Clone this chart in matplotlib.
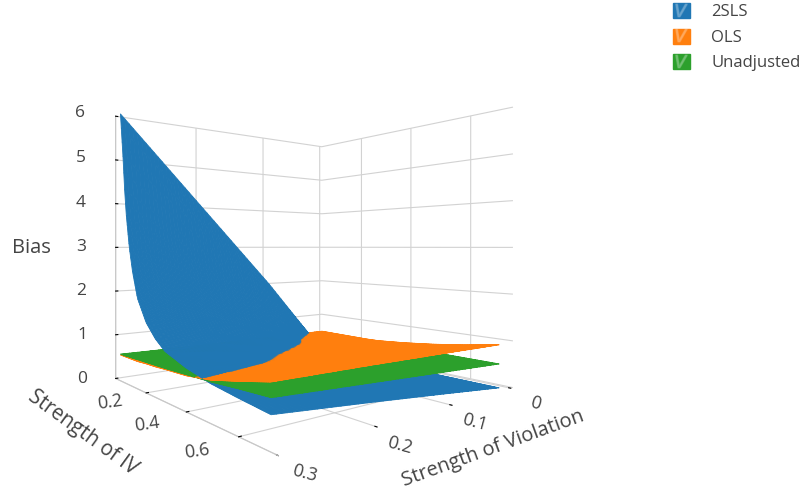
import numpy as np
import matplotlib
matplotlib.use('Agg')
import matplotlib.pyplot as plt
from matplotlib.patches import Patch
from matplotlib.lines import Line2D
from matplotlib.legend_handler import HandlerTuple
from mpl_toolkits.mplot3d.art3d import Poly3DCollection

plt.rcParams['font.family'] = ['Open Sans', 'DejaVu Sans']

# values
violation = [0.008, 0.1, 0.2, 0.3]
iv_strength = [0.043, 0.06, 0.07, 0.08, 0.1, 0.12, 0.15, 0.2, 0.25, 0.3, 0.4, 0.5, 0.6, 0.7]

bias_2sls = [
    [0.00, 0.00, 0.00, 0.00, 0.00, 0.00, 0.00, 0.00, 0.00, 0.00, 0.00, 0.00, 0.00, 0.00],
    [2.00, 1.67, 1.43, 1.25, 1.00, 0.83, 0.68, 0.55, 0.47, 0.42, 0.33, 0.26, 0.20, 0.18],
    [4.00, 3.33, 2.87, 2.50, 2.00, 1.65, 1.30, 0.99, 0.82, 0.72, 0.62, 0.52, 0.41, 0.37],
    [6.00, 5.00, 4.30, 3.75, 3.00, 2.48, 1.92, 1.45, 1.17, 0.98, 0.80, 0.68, 0.61, 0.55],
]
bias_ols = [
    [0.55, 0.55, 0.55, 0.55, 0.55, 0.55, 0.55, 0.55, 0.55, 0.56, 0.62, 0.70, 0.80, 0.92],
    [0.56, 0.56, 0.56, 0.56, 0.56, 0.56, 0.56, 0.56, 0.57, 0.58, 0.63, 0.71, 0.83, 0.96],
    [0.57, 0.57, 0.57, 0.57, 0.57, 0.57, 0.58, 0.59, 0.60, 0.62, 0.65, 0.72, 0.86, 1.00],
    [0.58, 0.58, 0.58, 0.58, 0.58, 0.58, 0.58, 0.60, 0.61, 0.63, 0.66, 0.74, 0.88, 1.03],
]
bias_unadjusted = [
    [0.50, 0.50, 0.50, 0.50, 0.50, 0.50, 0.50, 0.50, 0.50, 0.50, 0.50, 0.51, 0.51, 0.51],
    [0.53, 0.53, 0.53, 0.53, 0.54, 0.54, 0.54, 0.54, 0.55, 0.55, 0.56, 0.57, 0.58, 0.60],
    [0.57, 0.57, 0.57, 0.57, 0.57, 0.58, 0.58, 0.58, 0.59, 0.60, 0.62, 0.64, 0.67, 0.70],
    [0.60, 0.60, 0.60, 0.60, 0.61, 0.61, 0.62, 0.63, 0.64, 0.65, 0.68, 0.71, 0.76, 0.80],
]

series_names = ['2SLS', 'OLS', 'Unadjusted']
series_colors = ['#2077b4', '#ff7f0e', '#2ca02c']
text_color = '#444444'

z_ticks = [0, 1, 2, 3, 4, 5, 6]
z_label_px = [(82, 379), (82, 335), (81, 291), (81, 247), (81, 203), (81, 158), (80, 113)]
iv_ticks = [0.2, 0.4, 0.6]
iv_label_px = [(110, 402), (147, 424), (197, 451)]
violation_ticks = [0, 0.1, 0.2, 0.3]
violation_label_px = [(535, 403), (475, 422), (400, 445), (305, 473)]

view_azim = 50.5
eye_dist = 1.97


def split_facets(values, color):
    """
    cuts one surface into small facets
    :param values: bias table, one row for each violation value
    :param color: facet color
    :return: list of (cell distance from the eye, distance from eye level, polygon, color)
    """
    v_fine = np.linspace(violation[0], violation[-1], 61)
    iv_fine = np.linspace(iv_strength[0], iv_strength[-1], 121)
    table = np.array(values)
    by_iv = np.array([np.interp(iv_fine, iv_strength, row) for row in table])
    z = np.array([np.interp(v_fine, violation, col) for col in by_iv.T]).T
    # eye position over the floor, in box units
    eye_x = 0.5 + eye_dist * np.cos(np.radians(view_azim))
    eye_y = 0.5 + eye_dist * np.sin(np.radians(view_azim))
    facets = []
    for i in range(len(v_fine) - 1):
        for j in range(len(iv_fine) - 1):
            cell_x = ((v_fine[i] + v_fine[i + 1]) / 2 + 0.004) / 0.304
            cell_y = ((iv_fine[j] + iv_fine[j + 1]) / 2 - 0.01) / 0.71
            cell_dist = round(np.hypot(cell_x - eye_x, cell_y - eye_y), 6)
            level = abs(z[i:i + 2, j:j + 2].mean() - 3)
            poly = [(v_fine[i], iv_fine[j], z[i, j]),
                    (v_fine[i + 1], iv_fine[j], z[i + 1, j]),
                    (v_fine[i + 1], iv_fine[j + 1], z[i + 1, j + 1]),
                    (v_fine[i], iv_fine[j + 1], z[i, j + 1])]
            facets.append((cell_dist, level, poly, color))
    return facets


def px_text(pos, label, **kwargs):
    fig.text(pos[0] / 804, 1 - pos[1] / 491, label, color=text_color, ha='center', va='center',
             rotation_mode='anchor', **kwargs)


fig = plt.figure(figsize=(8.04, 4.91), dpi=100)
ax = fig.add_axes([67.3 / 804, 3.3 / 491, 468 / 804, 468 / 491], projection='3d')
ax.set_proj_type('persp', focal_length=0.225)
ax.view_init(elev=0.05, azim=view_azim)
ax.patch.set_alpha(0)

facets = []
for table, color in zip([bias_2sls, bias_ols, bias_unadjusted], series_colors):
    facets += split_facets(table, color)
# back cells first, and inside one cell the facet nearest eye level last
facets.sort(key=lambda f: (-f[0], -f[1]))
polys = [f[2] for f in facets]
colors = [f[3] for f in facets]
surface = Poly3DCollection(polys, facecolors=colors, edgecolors=colors, linewidths=0.6)
# the list is already in painting order, equal keys keep it
surface._zsortfunc = lambda zs: 0
ax.add_collection3d(surface)

ax.set_xlim(-0.004, 0.3, view_margin=0)
ax.set_ylim(0.01, 0.72, view_margin=0)
ax.set_zlim(0, 6, view_margin=0)
ax.set_box_aspect((1.04, 1.04, 1))

ax.set_xticks(violation_ticks)
ax.set_xticklabels([])
ax.set_yticks(iv_ticks)
ax.set_yticklabels([])
ax.set_zticks(z_ticks)
ax.set_zticklabels([])

for axis in [ax.xaxis, ax.yaxis, ax.zaxis]:
    axis.set_pane_color((1, 1, 1, 0))
    axis.pane.set_edgecolor('#c4c4c4')
    axis._axinfo['grid'].update(color='#d2d2d2', linewidth=0.8)
    axis._axinfo['tick'].update(inward_factor=0, outward_factor=0.1, color='#d2d2d2')
    axis.line.set_color('#c8c8c8')
ax.zaxis.pane.set_edgecolor('none')
ax.xaxis.line.set_color('none')

for pos, tick in zip(z_label_px, z_ticks):
    px_text(pos, str(tick), fontsize=12.5)
for pos, tick in zip(iv_label_px, iv_ticks):
    px_text(pos, str(tick), fontsize=13, rotation=8)
for pos, tick in zip(violation_label_px, violation_ticks):
    px_text(pos, str(tick), fontsize=13, rotation=-15)

px_text((31, 248), 'Bias', fontsize=14.5)
px_text((83, 433), 'Strength of IV', fontsize=14.8, rotation=-36)
px_text((493, 449), 'Strength of Violation', fontsize=14.5, rotation=20)

handles = [(Patch(color=c), Line2D([], [], marker='$V$', color='white', alpha=0.2, markersize=9, linestyle='none'))
           for c in series_colors]
fig.legend(handles, series_names, handler_map={tuple: HandlerTuple(ndivide=1)},
           loc='upper right', bbox_to_anchor=(1.0145, 1.024), frameon=False, labelcolor=text_color,
           fontsize=12, handlelength=1.0, handleheight=1.0, handletextpad=1.3, labelspacing=0.5)

plt.savefig('out.png', dpi=100)
